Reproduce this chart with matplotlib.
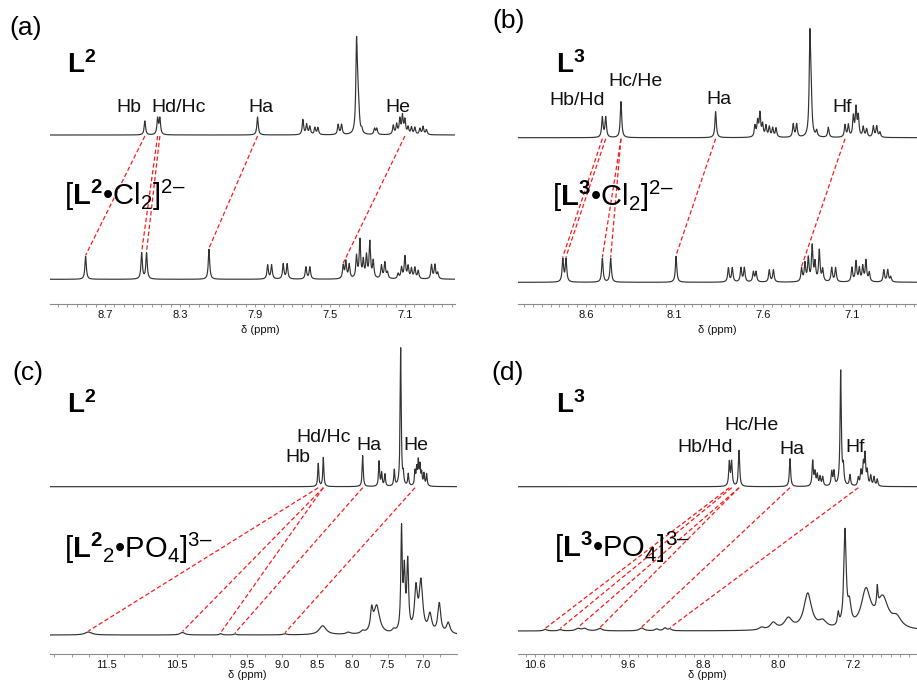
import numpy as np
import matplotlib
matplotlib.use('Agg')
import matplotlib.pyplot as plt
from matplotlib.ticker import MultipleLocator

plt.rcParams['font.family'] = ['Liberation Sans', 'DejaVu Sans']
plt.rcParams['mathtext.fontset'] = 'custom'
plt.rcParams['mathtext.rm'] = 'Liberation Sans'
plt.rcParams['mathtext.bf'] = 'Liberation Sans:bold'
plt.rcParams['mathtext.it'] = 'Liberation Sans:italic'

W, H = 917, 687

# ---- (a) L2 / [L2.Cl2]2- ----
a_top_ppm = [8.487, 8.419, 8.407, 7.886, 7.644, 7.624, 7.607, 7.580, 7.564, 7.456, 7.438,
             7.358, 7.352, 7.346, 7.330, 7.262, 7.250,
             7.162, 7.144, 7.127, 7.113, 7.100, 7.083, 7.065, 7.047, 7.020, 7.003, 6.985]
a_top_int = [14, 16, 16, 18, 15, 10, 8, 7, 7, 10, 10,
             86, 28, 16, 4, 6, 6,
             9, 10, 15, 18, 14, 7, 7, 7, 6, 8, 5]
a_bot_ppm = [8.803, 8.504, 8.478, 8.145, 7.832, 7.811, 7.749, 7.728, 7.628, 7.607,
             7.429, 7.415, 7.397, 7.358, 7.340, 7.322, 7.305, 7.287, 7.269, 7.225, 7.207, 7.193,
             7.136, 7.118, 7.100, 7.083, 7.065, 7.047, 7.029, 6.958, 6.940, 6.925]
a_bot_int = [23, 26, 26, 30, 14, 14, 15, 15, 12, 12,
             13, 17, 14, 22, 38, 17, 22, 36, 17, 13, 16, 6,
             5, 11, 22, 12, 10, 11, 8, 14, 14, 6]
a_link_top = [8.487, 8.419, 8.407, 7.886, 7.100]
a_link_bot = [8.803, 8.504, 8.478, 8.145, 7.429]
a_labels = ['Hb', 'Hd/Hc', 'Ha', 'He']
a_label_ppm = [8.572, 8.305, 7.868, 7.137]
a_label_y = [197, 197, 197, 197]
a_ticks = [8.7, 8.3, 7.9, 7.5, 7.1]

# ---- (b) L3 / [L3.Cl2]2- ----
b_top_ppm = [8.508, 8.489, 8.403, 7.869, 7.647, 7.632, 7.619, 7.604, 7.585, 7.566, 7.547, 7.528,
             7.431, 7.412, 7.337, 7.330, 7.299, 7.233,
             7.139, 7.120, 7.092, 7.077, 7.064, 7.036, 7.017, 6.979, 6.960, 6.942]
b_top_int = [20, 20, 36, 26, 11, 15, 23, 12, 11, 10, 9, 9,
             13, 13, 98, 33, 6, 10,
             12, 12, 20, 28, 20, 10, 8, 11, 11, 5]
b_bot_ppm = [8.731, 8.713, 8.508, 8.461, 8.092, 7.797, 7.775, 7.726, 7.707, 7.656, 7.641,
             7.566, 7.543, 7.384, 7.365, 7.346, 7.324, 7.308, 7.284, 7.265, 7.214, 7.192,
             7.100, 7.077, 7.058, 7.039, 7.021, 7.002, 6.920, 6.898, 6.881]
b_bot_int = [23, 23, 24, 24, 26, 14, 14, 14, 14, 10, 10,
             12, 12, 13, 18, 23, 35, 18, 31, 12, 14, 14,
             14, 20, 13, 15, 21, 9, 12, 12, 5]
b_link_top = [8.508, 8.489, 8.403, 8.403, 7.869, 7.139]
b_link_bot = [8.731, 8.713, 8.508, 8.461, 8.092, 7.384]
b_labels = ['Hb/Hd', 'Hc/He', 'Ha', 'Hf']
b_label_ppm = [8.652, 8.320, 7.850, 7.156]
b_label_y = [204, 223, 205, 197]
b_ticks = [8.6, 8.1, 7.6, 7.1]

# ---- (c) L2 / [L2_2.PO4]3- ----
c_top_ppm = [8.486, 8.414, 7.853, 7.620, 7.583, 7.536, 7.403, 7.312, 7.275, 7.204,
             7.108, 7.084, 7.061, 7.037, 7.013, 6.980, 6.942]
c_top_int = [23, 29, 31, 25, 13, 12, 16, 138, 10, 12,
             14, 16, 23, 19, 12, 12, 12]
c_bot_ppm = [11.76, 10.42, 9.876, 9.672, 8.96, 8.423, 8.058, 7.853, 7.725, 7.654, 7.410,
             7.300, 7.260, 7.212, 7.094, 7.023, 6.895, 6.762, 6.634]
c_bot_int = [3, 2.5, 1.3, 1.0, 1.0, 9, 2, 2.5, 20, 28, 3,
             100, 58, 68, 42, 50, 18, 30, 11]
c_bot_w = [0.06, 0.04, 0.02, 0.02, 0.03, 0.06, 0.04, 0.03, 0.02, 0.05, 0.03,
           0.012, 0.015, 0.015, 0.025, 0.03, 0.03, 0.025, 0.03]
c_link_top = [8.486, 8.414, 8.414, 7.853, 7.108]
c_link_bot = [11.76, 10.42, 9.876, 9.672, 8.96]
c_labels = ['Hb', 'Hd/Hc', 'Ha', 'He']
c_label_ppm = [8.775, 8.405, 7.764, 7.094]
c_label_y = [196, 217, 208, 209]
c_ticks = [11.5, 10.5, 9.5, 9.0, 8.5, 8.0, 7.5, 7.0]

# ---- (d) L3 / [L3.PO4]3- ----
d_top_ppm = [8.524, 8.499, 8.420, 7.876, 7.633, 7.609, 7.584, 7.555, 7.526, 7.430, 7.406,
             7.334, 7.306, 7.235, 7.146, 7.117, 7.092, 7.074, 7.050, 7.013, 6.978, 6.943]
d_top_int = [24, 24, 36, 28, 25, 13, 11, 9, 9, 14, 14,
             115, 17, 11, 8, 14, 20, 30, 14, 10, 9, 7]
d_bot_ppm = [10.49, 10.33, 10.14, 10.07, 9.906, 9.46, 9.30, 9.211, 9.158, 8.178, 8.054, 7.894,
             7.686, 7.526, 7.360, 7.288, 7.240, 7.064, 6.943, 6.885, 6.736]
d_bot_int = [1.6, 1.4, 2.3, 2.3, 2.3, 2.8, 1.8, 2.8, 1.8, 2.5, 7, 11,
             36, 7, 12, 95, 20, 38, 20, 30, 10]
d_bot_w = [0.02, 0.02, 0.03, 0.03, 0.03, 0.03, 0.02, 0.02, 0.02, 0.03, 0.04, 0.05,
           0.05, 0.05, 0.01, 0.015, 0.02, 0.06, 0.008, 0.07, 0.06]
d_link_top = [8.524, 8.499, 8.420, 8.420, 7.876, 7.146]
d_link_bot = [10.49, 10.33, 10.14, 9.906, 9.46, 9.158]
d_labels = ['Hb/Hd', 'Hc/He', 'Ha', 'Hf']
d_label_ppm = [8.784, 8.282, 7.854, 7.181]
d_label_y = [206, 228, 204, 206]
d_ticks = [10.6, 9.6, 8.8, 8.0, 7.2]


def lorentz(x, ppm, hts, hw):
    hw = np.broadcast_to(np.asarray(hw, dtype=float), (len(ppm),))
    y = np.zeros_like(x)
    for p, h, w in zip(ppm, hts, hw):
        y += h * w ** 2 / ((x - p) ** 2 + w ** 2)
    return y


fig = plt.figure(figsize=(W / 100, H / 100), dpi=100)


def put(x, y, s, **kw):
    fig.text(x / W, 1 - y / H, s, **kw)


def panel(rect, xlim, top, bot, base, links, labels, ticks, minor):
    left, right, ytop, ybot = rect
    ax = fig.add_axes([left / W, 1 - ybot / H, (right - left) / W, (ybot - ytop) / H])
    ax.set_xlim(*xlim)
    ax.set_ylim(0, ybot - ytop)
    x = np.linspace(xlim[1], xlim[0], 6000)
    y_top = base[0] + lorentz(x, *top)
    y_bot = base[1] + lorentz(x, *bot)
    ax.plot(x, y_top, color='#333333', lw=0.85)
    ax.plot(x, y_bot, color='#333333', lw=0.85)
    for pt, pb in zip(*links):
        yb = base[1] + lorentz(np.array([pb]), *bot)[0] + 1
        ln, = ax.plot([pt, pb], [base[0] - 1, yb], color='#ff1a1a', lw=0.9)
        ln.set_dashes((3.5, 2))
    for s, px, py in zip(*labels):
        ax.text(px, py, s, fontsize=14, ha='center', va='center', color='#111111')
    for sp in ['top', 'left', 'right']:
        ax.spines[sp].set_visible(False)
    ax.spines['bottom'].set_color('#8a8a8a')
    ax.spines['bottom'].set_linewidth(0.8)
    ax.set_yticks([])
    ax.set_xticks(ticks)
    ax.set_xticklabels(['%.1f' % t for t in ticks], fontsize=8)
    ax.xaxis.set_minor_locator(MultipleLocator(minor))
    ax.tick_params(axis='x', which='both', direction='out', length=2.5, width=0.6,
                   color='#8a8a8a', pad=1.5, labelcolor='#111111')
    ax.patch.set_visible(False)
    return ax


panel((50, 455, 5, 304), (8.993, 6.833),
      (a_top_ppm, a_top_int, 0.0045), (a_bot_ppm, a_bot_int, 0.0045), (169, 24.7),
      (a_link_top, a_link_bot), (a_labels, a_label_ppm, a_label_y), a_ticks, 0.05)
panel((518, 917, 5, 304), (8.984, 6.733),
      (b_top_ppm, b_top_int, 0.0048), (b_bot_ppm, b_bot_int, 0.0048), (166.3, 21.7),
      (b_link_top, b_link_bot), (b_labels, b_label_ppm, b_label_y), b_ticks, 0.05)
panel((50, 457, 340, 654), (12.308, 6.510),
      (c_top_ppm, c_top_int, 0.009), (c_bot_ppm, c_bot_int, c_bot_w), (167.3, 19),
      (c_link_top, c_link_bot), (c_labels, c_label_ppm, c_label_y), c_ticks, 0.25)
panel((518, 917, 340, 654), (10.782, 6.519),
      (d_top_ppm, d_top_int, 0.008), (d_bot_ppm, d_bot_int, d_bot_w), (167.3, 23),
      (d_link_top, d_link_bot), (d_labels, d_label_ppm, d_label_y), d_ticks, 0.1)

# axis titles
for xp, yp in [(260, 330), (717, 330), (247, 675), (707, 675)]:
    put(xp, yp, 'δ (ppm)', fontsize=8, ha='center', va='center', color='#111111')

# panel letters
for s, xp, yp in [('(a)', 9, 35), ('(b)', 492, 28), ('(c)', 12, 380), ('(d)', 491, 380)]:
    put(xp, yp, s, fontsize=19, ha='left', va='baseline')

# ligand names
put(67, 73, r'$\mathbf{L^2}$', fontsize=20, ha='left', va='baseline')
put(556, 73, r'$\mathbf{L^3}$', fontsize=20, ha='left', va='baseline')
put(67, 413, r'$\mathbf{L^2}$', fontsize=20, ha='left', va='baseline')
put(556, 413, r'$\mathbf{L^3}$', fontsize=20, ha='left', va='baseline')

# complex names
put(64, 205, r'$[\mathbf{L^2}\mathrm{•Cl}_{2}]^{\mathrm{2–}}$', fontsize=21, ha='left', va='baseline')
put(552, 206, r'$[\mathbf{L^3}\mathrm{•Cl}_{2}]^{\mathrm{2–}}$', fontsize=21, ha='left', va='baseline')
put(64, 558, r'$[\mathbf{L^2}_{2}\mathrm{•PO}_{4}]^{\mathrm{3–}}$', fontsize=21, ha='left', va='baseline')
put(554, 557, r'$[\mathbf{L^3}\mathrm{•PO}_{4}]^{\mathrm{3–}}$', fontsize=21, ha='left', va='baseline')

fig.savefig('out.png', dpi=100)
